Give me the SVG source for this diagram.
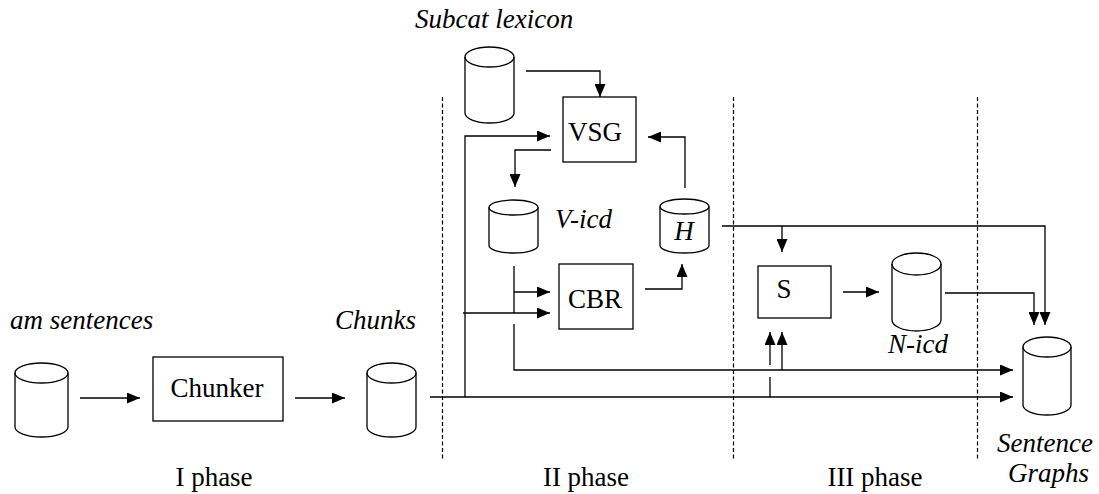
<svg xmlns="http://www.w3.org/2000/svg" width="1099" height="494" viewBox="0 0 1099 494" font-family="Liberation Serif, serif">
<style>
text{font-family:"Liberation Serif",serif;font-size:27px;fill:#000}
.it{font-style:italic}
.mid{text-anchor:middle}
.shape{fill:#fff;stroke:#000;stroke-width:1.3}
.conn{fill:none;stroke:#000;stroke-width:1.3}
.arr{marker-end:url(#ah)}
.dash{fill:none;stroke:#000;stroke-width:1.2;stroke-dasharray:4,2.5}
</style>
<defs>
<marker id="ah" markerUnits="userSpaceOnUse" markerWidth="13" markerHeight="11" refX="13" refY="5.5" orient="auto">
<path d="M0,0 L13,5.5 L0,11 z" fill="#000"/>
</marker>
</defs>
<rect width="1099" height="494" fill="#fff"/>

<g id="phases">
<line class="dash" x1="442.5" y1="97" x2="442.5" y2="460"/>
<line class="dash" x1="733.5" y1="97" x2="733.5" y2="460"/>
<line class="dash" x1="977.5" y1="97" x2="977.5" y2="460"/>
<text class="mid" x="214" y="486">I phase</text>
<text class="mid" x="586" y="486">II phase</text>
<text class="mid" x="875" y="486">III phase</text>
</g>

<g id="connectors">
<path class="conn arr" d="M80,398 H140"/>
<path class="conn arr" d="M295,398 H345"/>
<path class="conn arr" d="M430,397 H1013"/>
<path class="conn arr" d="M465,397 V136 H550"/>
<path class="conn arr" d="M463,313 H550"/>
<path class="conn arr" d="M526,71 H600 V97"/>
<path class="conn arr" d="M551,150 H515 V187"/>
<path class="conn" d="M514,266 V313"/>
<path class="conn arr" d="M514,292 H550"/>
<path class="conn arr" d="M514,324 V370 H1013"/>
<path class="conn arr" d="M645,289 H682 V264"/>
<path class="conn arr" d="M685,188 V137 H648"/>
<path class="conn arr" d="M722,226 H1045 V325"/>
<path class="conn arr" d="M782,226 V252"/>
<path class="conn arr" d="M843,292 H879"/>
<path class="conn arr" d="M945,293 H1034 V325"/>
<path class="conn arr" d="M782,370 V332"/>
<path class="conn" d="M770,397 V377"/>
<path class="conn arr" d="M770,365 V332"/>
</g>

<g id="am-sentences">
<path class="shape" d="M15,373 A26.5,10 0 0 1 68,373 V427 A26.5,10 0 0 1 15,427 Z"/>
<path class="conn" d="M15,373 A26.5,10 0 0 0 68,373"/>
<text class="it" x="10" y="329">am sentences</text>
</g>

<g id="chunker">
<rect class="shape" x="153" y="357" width="130" height="64"/>
<text class="mid" x="217" y="397">Chunker</text>
</g>

<g id="chunks">
<path class="shape" d="M367,373 A24.5,10 0 0 1 416,373 V427 A24.5,10 0 0 1 367,427 Z"/>
<path class="conn" d="M367,373 A24.5,10 0 0 0 416,373"/>
<text class="it" x="335" y="329">Chunks</text>
</g>

<g id="subcat-lexicon">
<path class="shape" d="M465,57 A24.5,10 0 0 1 514,57 V113 A24.5,10 0 0 1 465,113 Z"/>
<path class="conn" d="M465,57 A24.5,10 0 0 0 514,57"/>
<text class="it" x="415" y="28">Subcat lexicon</text>
</g>

<g id="vsg">
<rect class="shape" x="563" y="97" width="73" height="65"/>
<text class="mid" x="595" y="141">VSG</text>
</g>

<g id="v-icd">
<path class="shape" d="M489,207.5 A24.5,7.5 0 0 1 538,207.5 V245.5 A24.5,7.5 0 0 1 489,245.5 Z"/>
<path class="conn" d="M489,207.5 A24.5,7.5 0 0 0 538,207.5"/>
<text class="it" x="555" y="228">V-icd</text>
</g>

<g id="h">
<path class="shape" d="M660,206.5 A24.5,7.5 0 0 1 709,206.5 V245.5 A24.5,7.5 0 0 1 660,245.5 Z"/>
<path class="conn" d="M660,206.5 A24.5,7.5 0 0 0 709,206.5"/>
<text class="it mid" x="684" y="240">H</text>
</g>

<g id="cbr">
<rect class="shape" x="559" y="264" width="74" height="65"/>
<text class="mid" x="595" y="308">CBR</text>
</g>

<g id="s">
<rect class="shape" x="758" y="266" width="73" height="52"/>
<text class="mid" x="784" y="298">S</text>
</g>

<g id="n-icd">
<path class="shape" d="M892,264 A24.5,11 0 0 1 941,264 V320 A24.5,11 0 0 1 892,320 Z"/>
<path class="conn" d="M892,264 A24.5,11 0 0 0 941,264"/>
<text class="it" x="888" y="353">N-icd</text>
</g>

<g id="sentence-graphs">
<path class="shape" d="M1023,347 A24,10 0 0 1 1071,347 V405 A24,10 0 0 1 1023,405 Z"/>
<path class="conn" d="M1023,347 A24,10 0 0 0 1071,347"/>
<text class="it" x="997" y="452">Sentence</text>
<text class="it" x="1008" y="482">Graphs</text>
</g>
</svg>
